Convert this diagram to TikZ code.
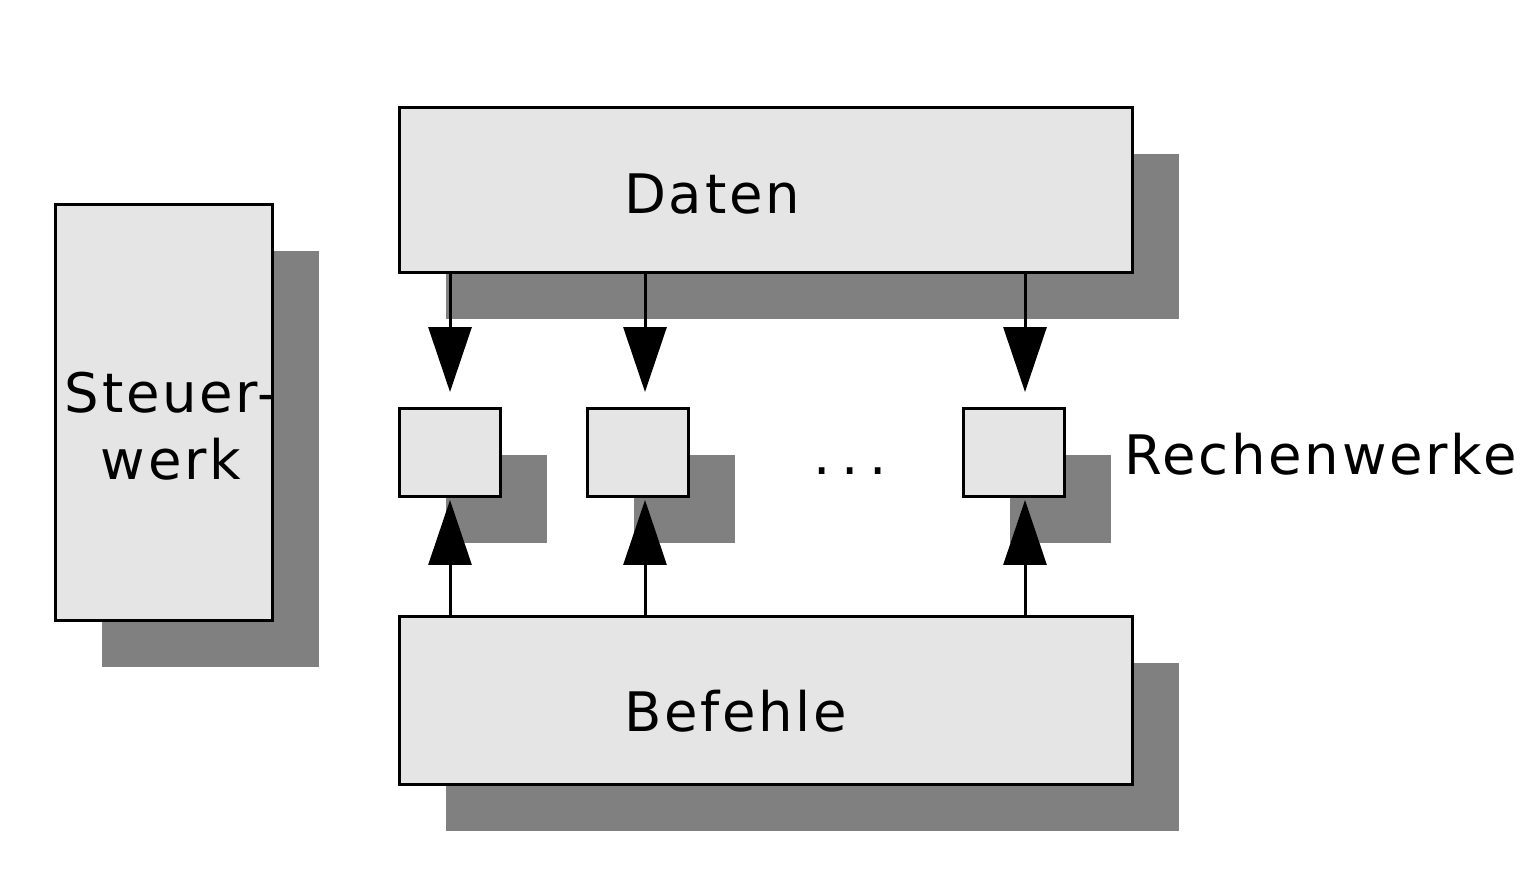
\documentclass[tikz,border=0pt]{standalone}
\usepackage{fontspec}
\setmainfont[LetterSpace=5]{DejaVu Sans}
\usetikzlibrary{arrows.meta, shadows}
\definecolor{boxgray}{RGB}{229,229,229}
\definecolor{shadowgray}{RGB}{128,128,128}

\begin{document}
\begin{tikzpicture}[x=0.02cm, y=-0.02cm, >=Triangle,
    box/.style={draw, line width=1.7pt, fill=boxgray, inner sep=0pt,
      drop shadow={shadow xshift=0.93cm, shadow yshift=-0.93cm, fill=shadowgray, opacity=1}},
    txt/.style={font=\fontsize{31}{38}\selectfont, inner sep=0pt},
    arr/.style={->, line width=1.7pt, arrows={-Triangle[width=0.86cm, length=1.3cm]}}]
    \useasboundingbox (0,0) rectangle (1533,893);

    \node[box, minimum width=4.34cm, minimum height=8.32cm] (steuer) at (164,412.5) {};
    \node[box, minimum width=14.66cm, minimum height=3.3cm] (daten) at (766,190) {};
    \node[box, minimum width=14.66cm, minimum height=3.36cm] (befehle) at (766,700.5) {};
    \foreach \i/\x in {1/450, 2/638, 3/1014}
        \node[box, minimum width=2.02cm, minimum height=1.76cm] (rw\i) at (\x,452.5) {};

    \node[txt, align=center] (steuertext) at (171,426) {Steuer-\\werk};
    \node[txt, anchor=base west] (datentext) at (624,213) {Daten};
    \node[txt, anchor=base west] (befehletext) at (624,731) {Befehle};
    \node[txt, anchor=base west] (rwtext) at (1124,474) {Rechenwerke};
    \node[txt, anchor=base] (dots) at (850,474) {.\hspace{0.2em}.\hspace{0.2em}.};

    % Daten -> Rechenwerke, Befehle -> Rechenwerke
    \foreach \i/\dx in {1/0, 2/0.14, 3/0.22} {
        \draw[arr, shorten >=0.3cm] ([xshift=\dx cm]daten.south -| rw\i.north) -- ([xshift=\dx cm]rw\i.north);
        \draw[arr, shorten >=0.04cm] ([xshift=\dx cm]befehle.north -| rw\i.south) -- ([xshift=\dx cm]rw\i.south);
    }
\end{tikzpicture}
\end{document}
